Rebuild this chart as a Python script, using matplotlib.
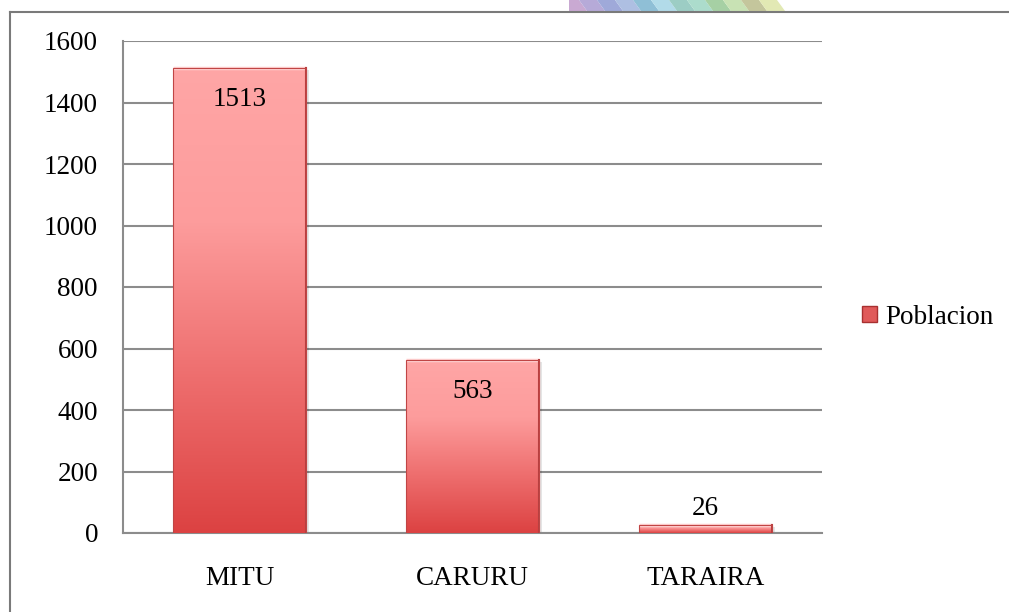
import matplotlib
matplotlib.use("Agg")
import matplotlib.pyplot as plt
import numpy as np
from matplotlib.colors import LinearSegmentedColormap
from matplotlib.lines import Line2D
from matplotlib.patches import Patch, Polygon

# data
categories = ["MITU", "CARURU", "TARAIRA"]
values = [1513, 563, 26]
series_name = "Poblacion"
y_ticks = [0, 200, 400, 600, 800, 1000, 1200, 1400, 1600]

plt.rcParams["font.family"] = ["Liberation Serif", "DejaVu Serif"]
FS = 19.5

W, H = 1009, 612
fig = plt.figure(figsize=(W / 100, H / 100), dpi=100)
fig.patch.set_facecolor("white")


def fx(px):
    return px / W


def fy(py):
    return 1 - py / H


# decorative striped artwork peeking above the chart frame
stripe_cols = ["#c9a9d2", "#b6aad8", "#9fa9d9", "#aebfe2", "#8fbfd6", "#b2dbe9",
               "#9ccdc4", "#acdccc", "#a6d0a4", "#c8e2b4", "#c4c69c", "#e2e9b4"]
x0 = 569
sw = 18
for i, c in enumerate(stripe_cols):
    xa = x0 + i * sw
    left_top = max(x0, xa - 8)
    pts = [(fx(left_top), fy(0)), (fx(xa + sw - 8), fy(0)),
           (fx(xa + sw), fy(11)), (fx(xa), fy(11))]
    fig.add_artist(Polygon(pts, closed=True, transform=fig.transFigure,
                           facecolor=c, edgecolor="none", zorder=0))

# outer chart frame (runs off the right and bottom of the picture)
fig.add_artist(Line2D([fx(10), 1.0], [fy(12), fy(12)], transform=fig.transFigure,
                      color="#7a7a7a", linewidth=1.5))
fig.add_artist(Line2D([fx(10), fx(10)], [fy(12), 0.0], transform=fig.transFigure,
                      color="#7a7a7a", linewidth=1.5))

ax = fig.add_axes([fx(123), fy(533), fx(822) - fx(123), fy(41) - fy(533)])
ax.set_yticks(y_ticks)
ax.set_yticklabels([str(t) for t in y_ticks], fontsize=FS)
ax.set_xticks(range(len(categories)))
ax.set_xticklabels(categories, fontsize=FS)
ax.tick_params(axis="both", length=0)
ax.tick_params(axis="y", pad=18)
ax.tick_params(axis="x", pad=24)
for side in ["top", "right"]:
    ax.spines[side].set_visible(False)
for side in ["left", "bottom"]:
    ax.spines[side].set_color("#8c8c8c")
    ax.spines[side].set_linewidth(1.5)
ax.yaxis.grid(True, color="#8c8c8c", linewidth=1.5)
ax.set_axisbelow(True)

grad = LinearSegmentedColormap.from_list("bar", ["#dc4242", "#ee6e6e", "#fd9c9c", "#ffa6a6"])
bar_w = 0.575
bars = ax.bar(range(len(categories)), values, width=bar_w, color="none",
              edgecolor="none", zorder=3)
for b in bars:
    x, y, w, h = b.get_x(), b.get_y(), b.get_width(), b.get_height()
    # soft shadow under the bar
    ax.bar(x + w / 2 + 0.012, h + 8, width=w, bottom=-14, color="#000000",
           alpha=0.10, zorder=2, linewidth=0)
    img = ax.imshow(np.linspace(0, 1, 256).reshape(-1, 1), cmap=grad, origin="lower",
                    extent=[x, x + w, y, y + h], aspect="auto", zorder=3)
    img.set_clip_path(b)
    # bevel: light top band, darker right edge
    ax.plot([x, x + w], [y + h, y + h], color="#ffd0d0", linewidth=2.5,
            zorder=4, solid_capstyle="butt")
    ax.plot([x + w, x + w], [y, y + h], color="#b84040", linewidth=1.5, zorder=4)
    ax.bar(x + w / 2, h, width=w, color="none", edgecolor="#c04545",
           linewidth=0.8, zorder=5)
ax.set_xlim(-0.5, len(categories) - 0.5)
ax.set_ylim(0, 1600)

for i, v in enumerate(values):
    if v > 100:
        ax.annotate(str(v), (i, v), xytext=(0, -23), textcoords="offset points",
                    ha="center", va="center", fontsize=FS, zorder=6)
    else:
        ax.annotate(str(v), (i, v), xytext=(0, 12), textcoords="offset points",
                    ha="center", va="center", fontsize=FS, zorder=6)

legend_handle = Patch(facecolor="#e05a5a", edgecolor="#a83030", label=series_name)
fig.legend(handles=[legend_handle], loc="center left",
           bbox_to_anchor=(fx(838), fy(317)), frameon=False, fontsize=FS,
           handlelength=0.55, handleheight=0.55, handletextpad=0.3)

fig.savefig("out.png", dpi=100, facecolor="white")
